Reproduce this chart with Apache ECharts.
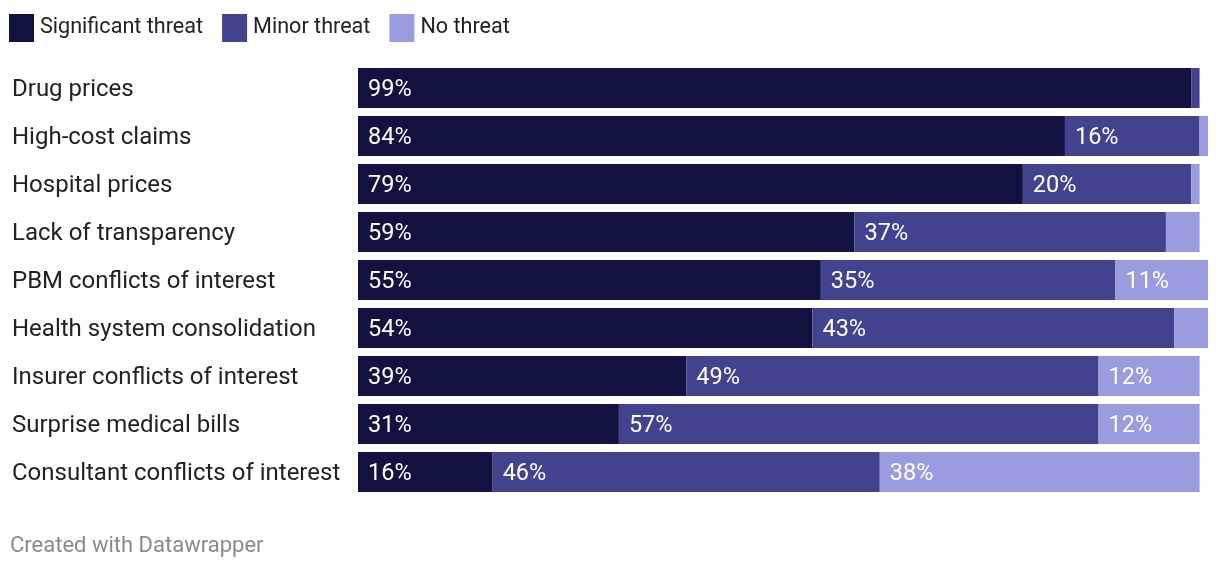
<!DOCTYPE html>
<html><head><meta charset="utf-8">
<script src="https://cdn.jsdelivr.net/npm/echarts@6/dist/echarts.min.js"></script>
<style>html,body{margin:0;padding:0;background:#fff}#c{width:1220px;height:570px}</style>
</head><body><div id="c"></div>
<script>
const categories = ["Drug prices","High-cost claims","Hospital prices","Lack of transparency","PBM conflicts of interest","Health system consolidation","Insurer conflicts of interest","Surprise medical bills","Consultant conflicts of interest"];
const seriesNames = ["Significant threat","Minor threat","No threat"];
const significant = [99,84,79,59,55,54,39,31,16];
const minor = [1,16,20,37,35,43,49,57,46];
const noThreat = [0,1,1,4,11,4,12,12,38];
const colors = ["#121241","#42428f","#9b9bdf"];
const values = [significant, minor, noThreat];

const chart = echarts.init(document.getElementById('c'), null, {renderer:'canvas'});
const font = 'Roboto, "Noto Sans", sans-serif';
chart.setOption({
  animation:false,
  textStyle:{fontFamily:font},
  legend:{
    left:9, top:14, padding:0, itemWidth:25, itemHeight:28, itemGap:19, icon:'rect',
    textStyle:{fontSize:21.6, color:'#222', fontFamily:font, padding:[0,0,0,1]},
    data:seriesNames
  },
  grid:{left:358, right:12, top:64, bottom:74, containLabel:false},
  xAxis:{type:'value', min:0, max:101, show:false},
  yAxis:{type:'category', data:categories, inverse:true,
    axisLine:{show:false}, axisTick:{show:false},
    axisLabel:{align:'left', margin:346, fontSize:24, color:'#222', fontFamily:font, verticalAlign:'top', lineHeight:4}
  },
  series: seriesNames.map((n,i)=>({
    name:n, type:'bar', stack:'t', barWidth:40, data:values[i],
    itemStyle:{color:colors[i]},
    label:{show:true, position:'insideLeft', distance:10, offset:[0,2], color:'#fff', fontSize:23.5, fontFamily:font,
      formatter:p=> p.value>=10 ? p.value+'%' : ''}
  })),
  graphic:[{type:'text', left:10, top:535, style:{text:'Created with Datawrapper', fill:'#8a8a8a', fontSize:22, fontFamily:font}}]
});
</script></body></html>
